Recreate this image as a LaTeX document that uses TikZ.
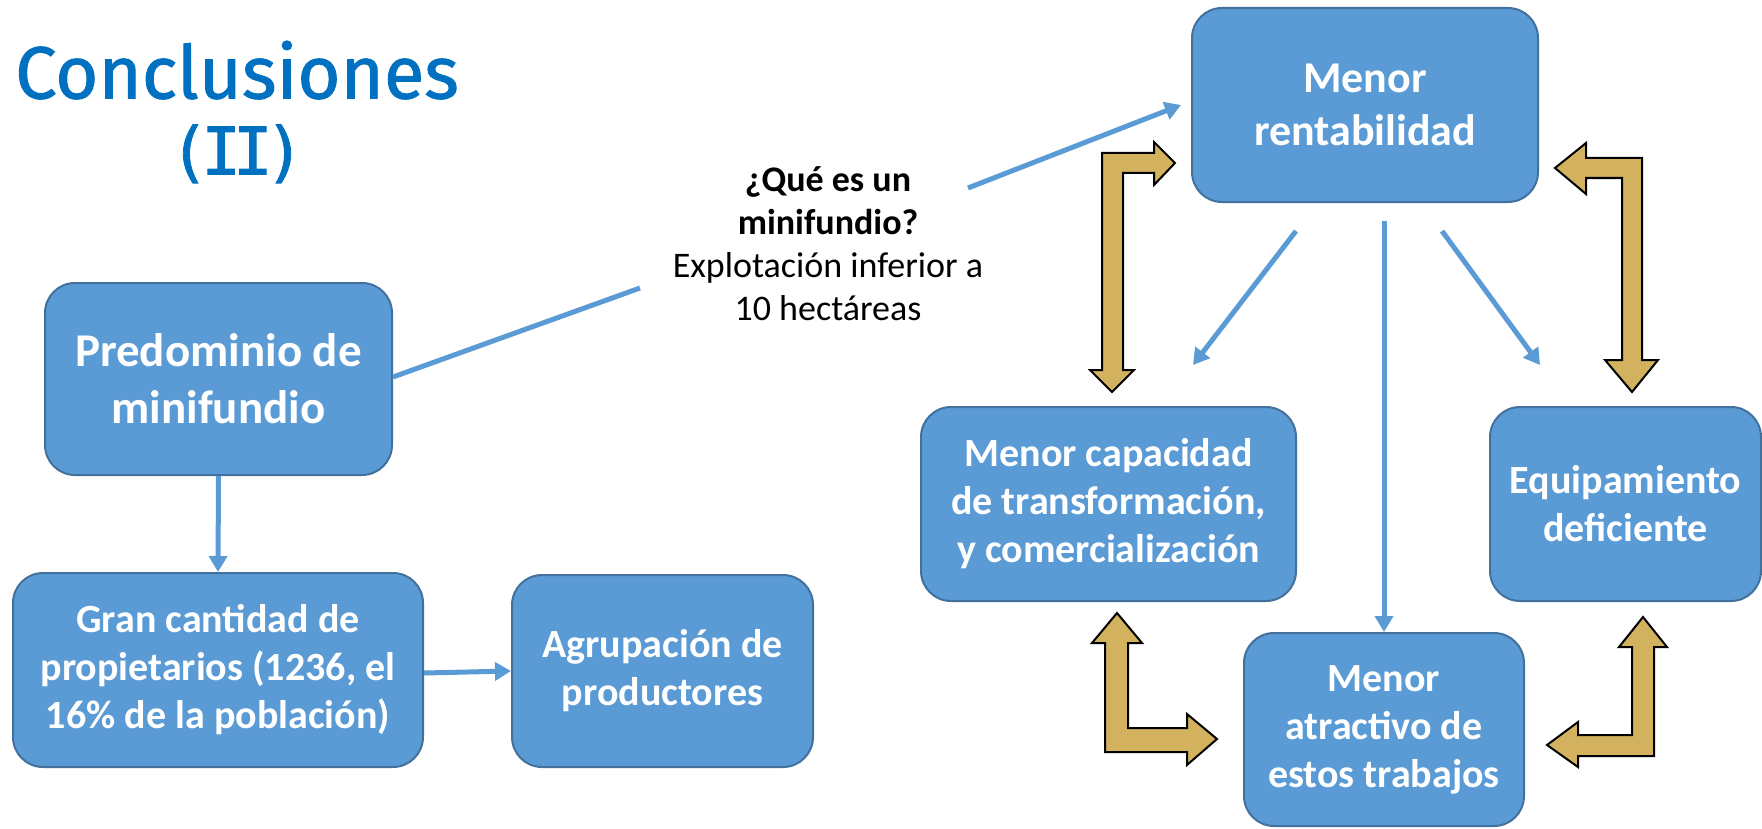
\documentclass[tikz,border=0pt]{standalone}
\usepackage{fontspec}
\setmainfont{Carlito}
\newfontfamily\titlefont[FakeBold=1.2]{Fira Sans}
\newfontfamily\romanfont[FakeBold=1.2]{DejaVu Sans Mono}
\usetikzlibrary{arrows.meta}
\definecolor{boxfill}{RGB}{91,155,213}
\definecolor{boxline}{RGB}{65,113,156}
\definecolor{goldfill}{RGB}{210,178,94}
\definecolor{titleblue}{RGB}{0,112,192}
\begin{document}
\begin{tikzpicture}[x=0.5pt,y=-0.5pt,
  box/.style={draw=boxline, line width=1pt, fill=boxfill, rounded corners=15pt,
    text=white, align=center, inner sep=0pt},
  fA/.style={font=\bfseries\fontsize{20}{24}\selectfont},
  fB/.style={font=\bfseries\fontsize{22}{26.5}\selectfont},
  fC/.style={font=\bfseries\fontsize{23.5}{28.5}\selectfont},
  conn/.style={draw=boxfill, line width=2.5pt, -{Triangle[width=9pt,length=8pt]}},
  plainconn/.style={draw=boxfill, line width=2.5pt},
  goldarrow/.style={fill=goldfill, draw=black, line width=1pt, line join=miter}]
\useasboundingbox (0,0) rectangle (1762,829);

% title
\node[text=titleblue, font=\titlefont\fontsize{37}{38}\selectfont, align=center, inner sep=0pt]
  (title) at (237,112) {Conclusiones\\{\romanfont\fontsize{33}{38}\selectfont(\kern-4pt I\kern-4pt I\kern-4pt)}};

% boxes
\node[box, fC, minimum width=173.5pt, minimum height=96pt] (pred) at (218.5,379) {Predominio de\\minifundio};
\node[box, fA, minimum width=205pt, minimum height=97pt] (gran) at (218,670) {Gran cantidad de\\propietarios (1236, el\\16\% de la población)};
\node[box, fA, minimum width=150.5pt, minimum height=96pt] (agr) at (662.5,671) {Agrupación de\\productores};
\node[box, fB, minimum width=173pt, minimum height=97pt] (rent) at (1365,105) {Menor\\rentabilidad};
\node[box, fA, minimum width=187.5pt, minimum height=97pt] (cap) at (1108.5,504) {Menor capacidad\\de transformación,\\y comercialización};
\node[box, fA, minimum width=135.5pt, minimum height=97pt] (equ) at (1625.5,504) {Equipamiento\\deficiente};
\node[box, fA, minimum width=140pt, minimum height=96.5pt] (atr) at (1384,729.5) {Menor\\atractivo de\\estos trabajos};

% explanation text
\node[align=center, inner sep=0pt, font=\fontsize{18}{21.5}\selectfont] (que) at (828,244)
  {\textbf{¿Qué es un}\\\textbf{minifundio?}\\Explotación inferior a\\10 hectáreas};

% coordinates for free ends
\coordinate (q1) at (640,288);
\coordinate (q2) at (968,188);
\coordinate (r1s) at (1296,231);
\coordinate (r1e) at (1193,365);
\coordinate (r2s) at (1384,221);
\coordinate (r3s) at (1442,231);
\coordinate (r3e) at (1540,365);

% blue connectors
\draw[conn] (pred.south) -- (gran.north);
\draw[conn] (gran.east |- 0,673) -- (agr.west);
\draw[plainconn] (pred.east |- 0,377) -- (q1);
\draw[conn] (q2) -- ([xshift=-5pt]rent.west);
\draw[conn] (r1s) -- (r1e);
\draw[conn] (r2s) -- (r2s |- atr.north);
\draw[conn] (r3s) -- (r3e);

% gold double arrows
\draw[goldarrow] (1112,392) -- (1134,370) -- (1123,370) -- (1123,173) -- (1154,173) -- (1154,185)
  -- (1175,163) -- (1154,142) -- (1154,153) -- (1102,153) -- (1102,370) -- (1090,370) -- cycle;
\draw[goldarrow] (1632,392) -- (1658,360) -- (1642,360) -- (1642,158) -- (1586,158) -- (1586,143)
  -- (1555,168) -- (1586,194) -- (1586,178) -- (1622,178) -- (1622,360) -- (1605,360) -- cycle;
\draw[goldarrow] (1117,613) -- (1142,643) -- (1128,643) -- (1128,728) -- (1187,728) -- (1187,714)
  -- (1217,739) -- (1187,765) -- (1187,752) -- (1105,752) -- (1105,643) -- (1092,643) -- cycle;
\draw[goldarrow] (1643,617) -- (1667,647) -- (1654,647) -- (1654,756) -- (1578,756) -- (1578,767)
  -- (1547,745) -- (1578,722) -- (1578,735) -- (1632,735) -- (1632,647) -- (1619,647) -- cycle;
\end{tikzpicture}
\end{document}
